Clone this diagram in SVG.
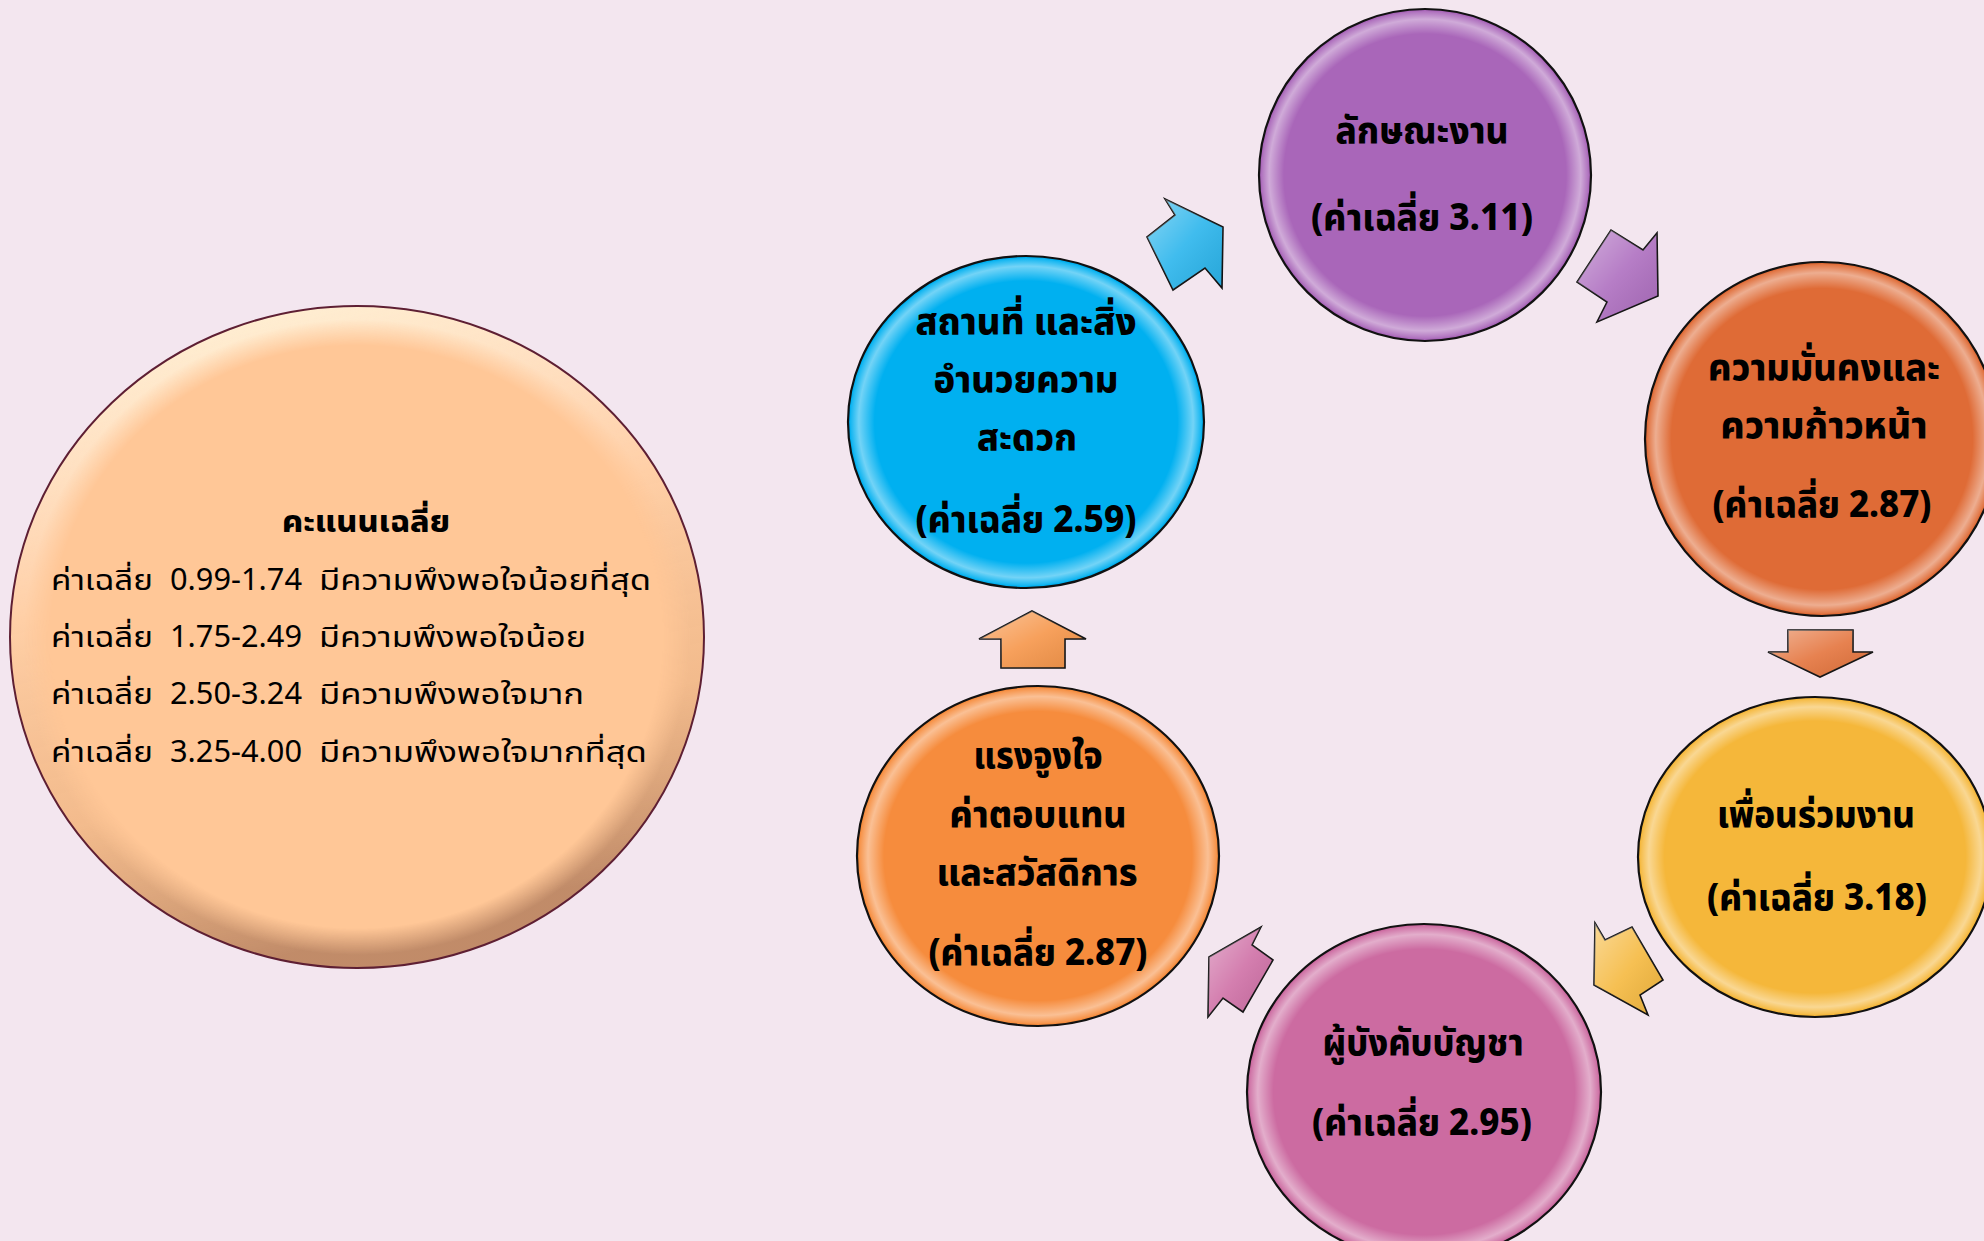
<svg xmlns="http://www.w3.org/2000/svg" width="1984" height="1241" viewBox="0 0 1984 1241">
<defs>
<style>
.bg{fill:#F3E6EF}
.node{stroke:#111;stroke-width:2.2}
.rim{stroke:none;fill:url(#rim)}
.t{font-family:'Noto Sans Thai','Noto Sans','DejaVu Sans','Liberation Sans',sans-serif;font-weight:800;font-size:37px;fill:#000;text-anchor:middle}
.lt{font-family:'Noto Sans Thai','Noto Sans','DejaVu Sans','Liberation Sans',sans-serif;font-size:28px;fill:#000}
.ln{font-family:'Noto Sans','Liberation Sans',sans-serif;font-size:30px;fill:#000}
.lh{font-family:'Noto Sans Thai','Noto Sans','DejaVu Sans','Liberation Sans',sans-serif;font-size:30px;font-weight:800;fill:#000;text-anchor:middle}
.arrow{stroke:#111;stroke-width:1.6;stroke-linejoin:miter}
.shine{fill:url(#shine);stroke:none}
</style>
<radialGradient id="rim" cx="0.5" cy="0.5" r="0.5">
<stop offset="0.86" stop-color="#fff" stop-opacity="0"/>
<stop offset="0.95" stop-color="#fff" stop-opacity="0.45"/>
<stop offset="1" stop-color="#fff" stop-opacity="0.05"/>
</radialGradient>
<radialGradient id="ringG" cx="0.5" cy="0.5" r="0.5">
<stop offset="0.88" stop-color="#fff" stop-opacity="0"/>
<stop offset="0.96" stop-color="#fff" stop-opacity="1"/>
<stop offset="1" stop-color="#fff" stop-opacity="1"/>
</radialGradient>
<linearGradient id="legShade" x1="0" y1="0" x2="0.25" y2="1">
<stop offset="0" stop-color="#fffbe0" stop-opacity="0.9"/>
<stop offset="0.45" stop-color="#fff" stop-opacity="0.15"/>
<stop offset="0.75" stop-color="#8a5a3a" stop-opacity="0.1"/>
<stop offset="1" stop-color="#6b3a2a" stop-opacity="0.42"/>
</linearGradient>
<mask id="legRing">
<ellipse cx="357" cy="637" rx="347" ry="331" fill="url(#ringG)"/>
</mask>
<linearGradient id="shine" x1="0" y1="0" x2="1" y2="1">
<stop offset="0" stop-color="#fff" stop-opacity="0.45"/>
<stop offset="0.5" stop-color="#fff" stop-opacity="0.1"/>
<stop offset="1" stop-color="#000" stop-opacity="0.08"/>
</linearGradient>
</defs>
<rect class="bg" x="0" y="0" width="1984" height="1241"/>

<g id="legend">
<ellipse cx="357" cy="637" rx="347" ry="331" fill="#FFC797"/>
<rect x="0" y="300" width="720" height="680" fill="url(#legShade)" mask="url(#legRing)"/>
<ellipse cx="357" cy="637" rx="347" ry="331" fill="none" stroke="#5E1F33" stroke-width="2"/>
<text class="lh" x="366" y="532" textLength="168" lengthAdjust="spacingAndGlyphs">คะแนนเฉลี่ย</text>
<text class="lt" x="51" y="590" textLength="102" lengthAdjust="spacingAndGlyphs">ค่าเฉลี่ย</text>
<text class="ln" x="170" y="590" textLength="132" lengthAdjust="spacingAndGlyphs">0.99-1.74</text>
<text class="lt" x="319" y="590" textLength="332" lengthAdjust="spacingAndGlyphs">มีความพึงพอใจน้อยที่สุด</text>
<text class="lt" x="51" y="647" textLength="102" lengthAdjust="spacingAndGlyphs">ค่าเฉลี่ย</text>
<text class="ln" x="170" y="647" textLength="132" lengthAdjust="spacingAndGlyphs">1.75-2.49</text>
<text class="lt" x="319" y="647" textLength="267" lengthAdjust="spacingAndGlyphs">มีความพึงพอใจน้อย</text>
<text class="lt" x="51" y="704" textLength="102" lengthAdjust="spacingAndGlyphs">ค่าเฉลี่ย</text>
<text class="ln" x="170" y="704" textLength="132" lengthAdjust="spacingAndGlyphs">2.50-3.24</text>
<text class="lt" x="319" y="704" textLength="265" lengthAdjust="spacingAndGlyphs">มีความพึงพอใจมาก</text>
<text class="lt" x="51" y="762" textLength="102" lengthAdjust="spacingAndGlyphs">ค่าเฉลี่ย</text>
<text class="ln" x="170" y="762" textLength="132" lengthAdjust="spacingAndGlyphs">3.25-4.00</text>
<text class="lt" x="319" y="762" textLength="328" lengthAdjust="spacingAndGlyphs">มีความพึงพอใจมากที่สุด</text>
</g>

<g id="node-place">
<ellipse class="node" cx="1026" cy="422" rx="178" ry="166" fill="#00B0F0"/>
<ellipse class="rim" cx="1026" cy="422" rx="176" ry="164"/>
<text class="t" x="1026" y="334" textLength="221" lengthAdjust="spacingAndGlyphs">สถานที่ และสิ่ง</text>
<text class="t" x="1026" y="392" textLength="185" lengthAdjust="spacingAndGlyphs">อำนวยความ</text>
<text class="t" x="1027" y="450" textLength="100" lengthAdjust="spacingAndGlyphs">สะดวก</text>
<text class="t" x="1026" y="532" textLength="221" lengthAdjust="spacingAndGlyphs">(ค่าเฉลี่ย 2.59)</text>
</g>

<g id="node-work">
<ellipse class="node" cx="1425" cy="175" rx="166" ry="166" fill="#A966B9"/>
<ellipse class="rim" cx="1425" cy="175" rx="164" ry="164"/>
<text class="t" x="1422" y="143" textLength="173" lengthAdjust="spacingAndGlyphs">ลักษณะงาน</text>
<text class="t" x="1422" y="230" textLength="222" lengthAdjust="spacingAndGlyphs">(ค่าเฉลี่ย 3.11)</text>
</g>

<g id="node-security">
<ellipse class="node" cx="1822" cy="439" rx="177" ry="177" fill="#DF6B36"/>
<ellipse class="rim" cx="1822" cy="439" rx="175" ry="175"/>
<text class="t" x="1824" y="380" textLength="232" lengthAdjust="spacingAndGlyphs">ความมั่นคงและ</text>
<text class="t" x="1824" y="438" textLength="207" lengthAdjust="spacingAndGlyphs">ความก้าวหน้า</text>
<text class="t" x="1822" y="517" textLength="219" lengthAdjust="spacingAndGlyphs">(ค่าเฉลี่ย 2.87)</text>
</g>

<g id="node-colleague">
<ellipse class="node" cx="1815" cy="857" rx="177" ry="160" fill="#F5B73A"/>
<ellipse class="rim" cx="1815" cy="857" rx="175" ry="158"/>
<text class="t" x="1816" y="827" textLength="198" lengthAdjust="spacingAndGlyphs">เพื่อนร่วมงาน</text>
<text class="t" x="1817" y="910" textLength="220" lengthAdjust="spacingAndGlyphs">(ค่าเฉลี่ย 3.18)</text>
</g>

<g id="node-supervisor">
<ellipse class="node" cx="1424" cy="1092" rx="177" ry="168" fill="#CC6BA1"/>
<ellipse class="rim" cx="1424" cy="1092" rx="175" ry="166"/>
<text class="t" x="1423" y="1055" textLength="201" lengthAdjust="spacingAndGlyphs">ผู้บังคับบัญชา</text>
<text class="t" x="1422" y="1135" textLength="220" lengthAdjust="spacingAndGlyphs">(ค่าเฉลี่ย 2.95)</text>
</g>

<g id="node-motivation">
<ellipse class="node" cx="1038" cy="856" rx="181" ry="170" fill="#F68C3D"/>
<ellipse class="rim" cx="1038" cy="856" rx="179" ry="168"/>
<text class="t" x="1038" y="768" textLength="129" lengthAdjust="spacingAndGlyphs">แรงจูงใจ</text>
<text class="t" x="1038" y="827" textLength="177" lengthAdjust="spacingAndGlyphs">ค่าตอบแทน</text>
<text class="t" x="1037" y="885" textLength="201" lengthAdjust="spacingAndGlyphs">และสวัสดิการ</text>
<text class="t" x="1038" y="965" textLength="219" lengthAdjust="spacingAndGlyphs">(ค่าเฉลี่ย 2.87)</text>
</g>

<g id="connectors">
<polygon class="arrow" fill="#2BB5EC" points="1165,199 1223,227 1222,288 1205,268 1173,290 1147,237 1175,215"/>
<polygon class="shine" points="1165,199 1223,227 1222,288 1205,268 1173,290 1147,237 1175,215"/>
<polygon class="arrow" fill="#AE6FC0" points="1657,233 1658,296 1597,322 1607,302 1577,282 1611,230 1643,250"/>
<polygon class="shine" points="1657,233 1658,296 1597,322 1607,302 1577,282 1611,230 1643,250"/>
<polygon class="arrow" fill="#E4743D" points="1788,630 1853,630 1853,652 1873,652 1820,677 1768,652 1788,652"/>
<polygon class="shine" points="1788,630 1853,630 1853,652 1873,652 1820,677 1768,652 1788,652"/>
<polygon class="arrow" fill="#F5B940" points="1595,923 1605,940 1632,927 1663,980 1640,995 1648,1015 1594,985"/>
<polygon class="shine" points="1595,923 1605,940 1632,927 1663,980 1640,995 1648,1015 1594,985"/>
<polygon class="arrow" fill="#CF70A6" points="1261,927 1252,945 1273,960 1243,1012 1223,998 1208,1017 1209,957"/>
<polygon class="shine" points="1261,927 1252,945 1273,960 1243,1012 1223,998 1208,1017 1209,957"/>
<polygon class="arrow" fill="#F6964A" points="1032,611 1086,639 1065,639 1065,668 1001,668 1001,639 979,639"/>
<polygon class="shine" points="1032,611 1086,639 1065,639 1065,668 1001,668 1001,639 979,639"/>
</g>
</svg>
